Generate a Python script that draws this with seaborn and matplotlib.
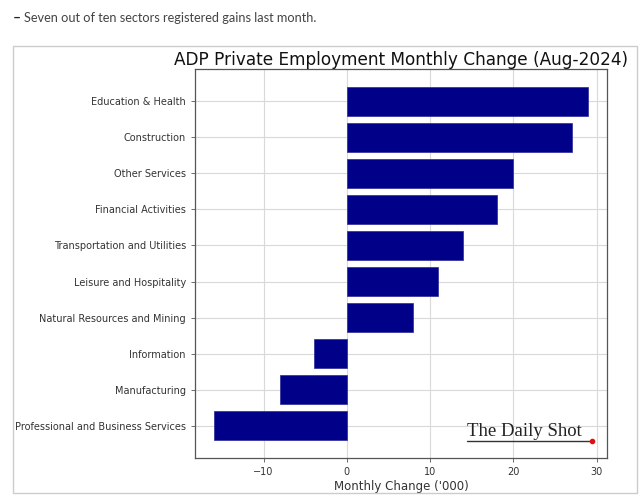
import pandas as pd
import seaborn as sns
import matplotlib.pyplot as plt
from matplotlib.patches import Rectangle
from matplotlib.lines import Line2D

sectors = [
    "Education & Health",
    "Construction",
    "Other Services",
    "Financial Activities",
    "Transportation and Utilities",
    "Leisure and Hospitality",
    "Natural Resources and Mining",
    "Information",
    "Manufacturing",
    "Professional and Business Services",
]
change = [29, 27, 20, 18, 14, 11, 8, -4, -8, -16]

df = pd.DataFrame({"sector": sectors, "change": change})

sns.set_style("whitegrid", {
    "grid.color": "#d9d9d9",
    "axes.edgecolor": "#555555",
    "xtick.bottom": True,
    "ytick.left": True,
    "xtick.color": "#555555",
    "ytick.color": "#555555",
})
plt.rcParams["font.family"] = ["DejaVu Sans"]

fig = plt.figure(figsize=(6.4, 5.03), dpi=100)
ax = fig.add_axes([195 / 640, 1 - 458 / 503, 412 / 640, 389 / 503])

sns.barplot(data=df, x="change", y="sector", orient="h", color="#000088",
            saturation=1, width=0.8, edgecolor="#2a2a9a", linewidth=0.5, ax=ax)

ax.yaxis.grid(True)
ax.xaxis.grid(True)
ax.set_axisbelow(True)
ax.margins(x=0.05)
# same padding as matplotlib's default margins around the bars
n = len(sectors)
pad = 0.05 * (n - 0.2)
ax.set_ylim(n - 0.6 + pad, -0.4 - pad)
ax.set_xticks([-10, 0, 10, 20, 30])
ax.tick_params(axis="both", labelsize=7, length=3, width=0.6, labelcolor="#333333")
for s in ax.spines.values():
    s.set_linewidth(0.9)
ax.set_ylabel("")
ax.set_xlabel("Monthly Change ('000)", fontsize=8.5, color="#333333", labelpad=2)
ax.set_title("ADP Private Employment Monthly Change (Aug-2024)", fontsize=12.2, pad=3, color="#111111")

# frame of the embedded image
fig.add_artist(Rectangle((13 / 640, 1 - 493 / 503), 624 / 640, 447 / 503,
                         transform=fig.transFigure, fill=False,
                         edgecolor="#cccccc", linewidth=1))

fig.text(13 / 640, 1 - 18 / 503, "–", fontsize=10, fontweight="bold",
         color="#222222", va="center", family="Lato")
fig.text(24 / 640, 1 - 18 / 503, "Seven out of ten sectors registered gains last month.",
         fontsize=9.2, color="#444444", va="center", family="Lato")

# watermark
fig.text(467 / 640, 1 - 431 / 503, "The Daily Shot", fontsize=13.5,
         family="Liberation Serif", color="#222222", va="center", ha="left")
fig.add_artist(Line2D([467 / 640, 590 / 640], [1 - 441 / 503, 1 - 441 / 503],
                      transform=fig.transFigure, color="#333333", linewidth=1))
fig.add_artist(Line2D([592 / 640], [1 - 441 / 503], transform=fig.transFigure,
                      marker="o", markersize=3, color="#dd1111"))

fig.savefig("out.png", dpi=100)
